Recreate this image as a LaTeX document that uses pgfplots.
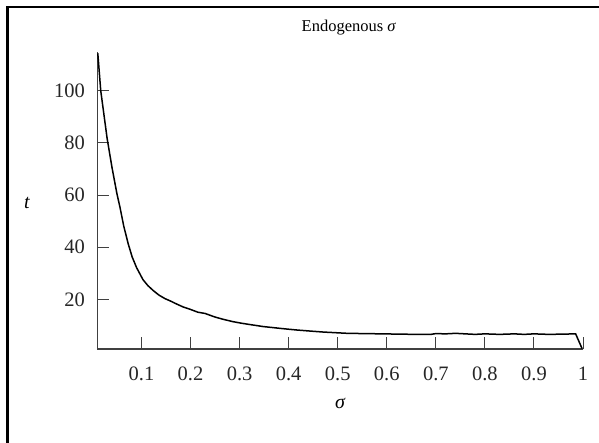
\documentclass[border=0pt]{standalone}
\usepackage{fontspec}
\setmainfont{Liberation Serif}
\usepackage{pgfplots}
\pgfplotsset{compat=1.18}
\begin{document}
\begin{tikzpicture}[x=1pt,y=1pt]
\useasboundingbox (0,0) rectangle (599,443);
\draw[line width=2.6pt] (7.3,0) -- (7.3,436) -- (599,436);
\begin{axis}[
  at={(97.3pt,94pt)}, anchor=south west,
  scale only axis, width=485.7pt, height=297pt,
  xmin=0.01, xmax=1, ymin=1, ymax=114.8,
  axis lines=left,
  axis line style={-, line width=1.3pt, color=black!75},
  tick align=inside,
  major tick length=12pt,
  tick style={line width=0.9pt, color=black!75},
  xtick={0.1,0.2,0.3,0.4,0.5,0.6,0.7,0.8,0.9,1},
  xticklabels={0.1,0.2,0.3,0.4,0.5,0.6,0.7,0.8,0.9,1},
  ytick={20,40,60,80,100},
  yticklabels={20,40,60,80,100},
  /pgf/number format/assume math mode=true,
  ticklabel style={font=\fontsize{20.5}{24}\selectfont, text=black!85},
  xticklabel style={yshift=-14pt},
  yticklabel style={xshift=-9pt},
  clip=false,
]
\addplot[black, line width=1.5pt] coordinates {
(0.011,114.3) (0.017,100) (0.030,81.7) (0.040,70.5) (0.050,60.5) (0.056,55.5)
(0.064,48) (0.073,41.3) (0.081,36.3) (0.090,32.2) (0.103,27.6) (0.113,25.3) (0.124,23.4)
(0.136,21.6) (0.148,20.3) (0.160,19.3) (0.171,18.3) (0.185,17.1) (0.198,16.3) (0.215,15.1)
(0.230,14.6) (0.249,13.3) (0.266,12.4) (0.286,11.5) (0.303,10.9) (0.320,10.4) (0.348,9.6)
(0.368,9.2) (0.388,8.8) (0.415,8.3) (0.442,7.9) (0.47,7.5) (0.49,7.3) (0.52,7.0)
(0.555,6.9) (0.59,6.8) (0.625,6.7) (0.66,6.6) (0.69,6.6) (0.70,6.9) (0.72,6.8) (0.74,7.0)
(0.76,6.8) (0.78,6.6) (0.80,6.8) (0.83,6.6) (0.86,6.8) (0.88,6.6) (0.90,6.8) (0.93,6.6)
(0.96,6.7) (0.985,6.8) (0.998,1.2)
};
\node[anchor=base, font=\fontsize{16.5}{20}\selectfont] at (rel axis cs:0.518,1.07) {Endogenous \textit{σ}};
\node[font=\fontsize{20}{24}\selectfont\itshape] at (rel axis cs:-0.145,0.49) {t};
\node[font=\fontsize{20}{24}\selectfont\itshape] at (rel axis cs:0.5,-0.185) {σ};
\end{axis}
\end{tikzpicture}
\end{document}
